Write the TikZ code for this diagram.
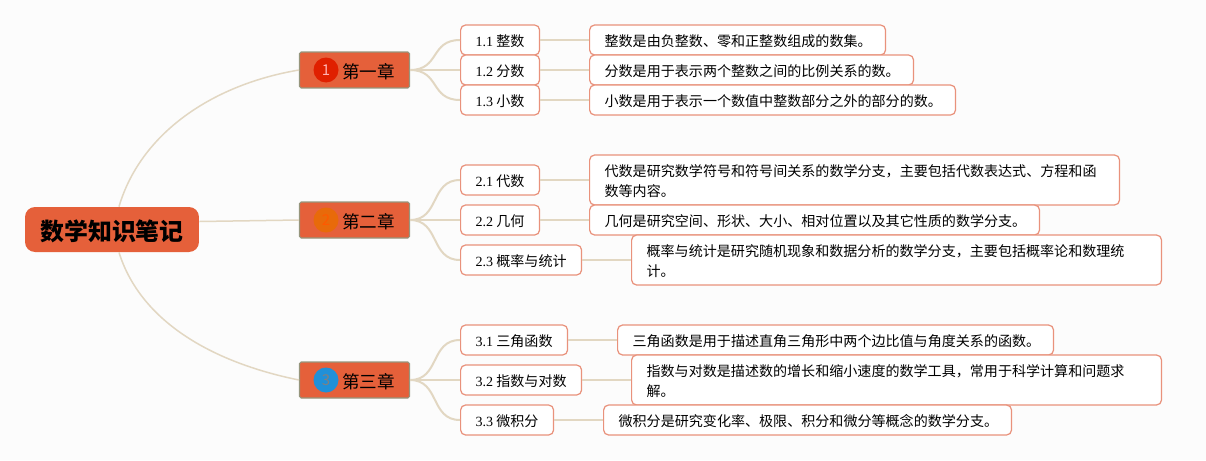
\documentclass[tikz,border=0pt]{standalone}
\usepackage{fontspec}
\setmainfont{Liberation Serif}
\newfontfamily\cjk{Noto Sans CJK SC}
\definecolor{PageBack}{RGB}{252, 252, 252}
\definecolor{BoxRed}{RGB}{229, 96, 58}
\definecolor{BoxLine}{RGB}{233, 146, 124}
\definecolor{Branch}{RGB}{226, 215, 194}
\definecolor{ChapLine}{RGB}{150, 150, 125}
\definecolor{BadgeRed}{RGB}{224, 32, 0}
\definecolor{BadgeOrange}{RGB}{232, 106, 10}
\definecolor{BadgeBlue}{RGB}{32, 144, 216}

\begin{document}
\begin{tikzpicture}[
                x=0.02cm, y=-0.02cm,
                root/.style={fill=BoxRed, rounded corners=0.2cm, minimum width=3.48cm, minimum height=0.9cm, text height=0.5cm, text depth=0.056cm, font=\cjk\fontsize{13.6}{16}\selectfont\bfseries},
                chap/.style={draw=ChapLine, fill=BoxRed, line width=0.6pt, rounded corners=0.03cm, minimum width=2.2cm, minimum height=0.72cm, text height=0.4cm, text depth=0.072cm, font=\cjk\fontsize{10}{12}\selectfont},
                badge/.style={circle, inner sep=0pt, minimum size=0.5cm, font=\cjk\fontsize{8.5}{10}\selectfont},
                sec/.style={draw=BoxLine, fill=white, line width=0.7pt, rounded corners=0.1cm, anchor=west, minimum height=0.6cm, minimum width=#1, inner xsep=0.3cm, inner ysep=0pt, text height=0.3cm, text depth=0.046cm, font=\cjk\fontsize{8}{10}\selectfont},
                det/.style={draw=BoxLine, fill=white, line width=0.7pt, rounded corners=0.1cm, anchor=west, minimum height=0.6cm, text width=#1, inner xsep=0.3cm, inner ysep=0pt, align=left, text height=0.3cm, text depth=0.046cm, font=\cjk\fontsize{8}{11.4}\selectfont},
                twoline/.style={minimum height=1cm, text depth=0.446cm},
                link/.style={Branch, line width=0.04cm},
                mainlink/.style={Branch, line width=0.03cm}
            ]
                \useasboundingbox (0, 0) rectangle (1206, 460);
                \fill[PageBack] (0, 0) rectangle (1206, 460);

                % Main Node
                \node[root] (root) at (112, 229.5) {数学知识笔记};

                % Chapters
                \node[chap] (ch1) at (354.5, 70) {\hspace*{0.56cm}第一章};
                \node[chap] (ch2) at (354.5, 220) {\hspace*{0.56cm}第二章};
                \node[chap] (ch3) at (354.5, 380) {\hspace*{0.56cm}第三章};
                \node[badge, fill=BadgeRed, text=red!30!white] (bd1) at (326, 70) {1};
                \node[badge, fill=BadgeOrange, text=orange!70!red] (bd2) at (326, 220) {2};
                \node[badge, fill=BadgeBlue, text=gray] (bd3) at (326, 380) {3};

                % Sections (first chapter)
                \node[sec=1.58cm] (s11) at (460, 40) {{\rmfamily 1.1} 整数};
                \node[sec=1.58cm] (s12) at (460, 70) {{\rmfamily 1.2} 分数};
                \node[sec=1.58cm] (s13) at (460, 100) {{\rmfamily 1.3} 小数};

                % Sections (second chapter)
                \node[sec=1.58cm] (s21) at (460, 180) {{\rmfamily 2.1} 代数};
                \node[sec=1.58cm] (s22) at (460, 220) {{\rmfamily 2.2} 几何};
                \node[sec=2.42cm] (s23) at (460, 260) {{\rmfamily 2.3} 概率与统计};

                % Sections (third chapter)
                \node[sec=2.14cm] (s31) at (460, 340) {{\rmfamily 3.1} 三角函数};
                \node[sec=2.42cm] (s32) at (460, 380) {{\rmfamily 3.2} 指数与对数};
                \node[sec=1.86cm] (s33) at (460, 420) {{\rmfamily 3.3} 微积分};

                % Details (first chapter)
                \node[det=5.32cm] (d11) at (589, 40) {整数是由负整数、零和正整数组成的数集。};
                \node[det=5.88cm] (d12) at (589, 70) {分数是用于表示两个整数之间的比例关系的数。};
                \node[det=6.72cm] (d13) at (589, 100) {小数是用于表示一个数值中整数部分之外的部分的数。};

                % Details (second chapter)
                \node[det=10cm, twoline] (d21) at (589, 180) {代数是研究数学符号和符号间关系的数学分支，主要包括代数表达式、方程和函\\数等内容。};
                \node[det=8.4cm] (d22) at (589, 220) {几何是研究空间、形状、大小、相对位置以及其它性质的数学分支。};
                \node[det=10cm, twoline] (d23) at (631, 260) {概率与统计是研究随机现象和数据分析的数学分支，主要包括概率论和数理统\\计。};

                % Details (third chapter)
                \node[det=8.12cm] (d31) at (617, 340) {三角函数是用于描述直角三角形中两个边比值与角度关系的函数。};
                \node[det=10cm, twoline] (d32) at (631, 380) {指数与对数是描述数的增长和缩小速度的数学工具，常用于科学计算和问题求\\解。};
                \node[det=7.56cm] (d33) at (603, 420) {微积分是研究变化率、极限、积分和微分等概念的数学分支。};

                % Root branches
                \draw[mainlink] ([xshift=0.14cm]root.north) .. controls (140, 135) and (210, 85) .. (ch1.west);
                \draw[mainlink] ([yshift=0.16cm]root.east) -- (ch2.west);
                \draw[mainlink] ([xshift=0.14cm]root.south) .. controls (140, 320) and (210, 362) .. (ch3.west);

                % Chapter branches
                \draw[link] (ch1.east) .. controls (440, 70) and (430, 40) .. (s11.west);
                \draw[link] (ch1.east) -- (s12.west);
                \draw[link] (ch1.east) .. controls (440, 70) and (430, 100) .. (s13.west);
                \draw[link] (ch2.east) .. controls (440, 220) and (430, 180) .. (s21.west);
                \draw[link] (ch2.east) -- (s22.west);
                \draw[link] (ch2.east) .. controls (440, 220) and (430, 260) .. (s23.west);
                \draw[link] (ch3.east) .. controls (440, 380) and (430, 340) .. (s31.west);
                \draw[link] (ch3.east) -- (s32.west);
                \draw[link] (ch3.east) .. controls (440, 380) and (430, 420) .. (s33.west);

                % Section to detail
                \draw[link] (s11) -- (d11);
                \draw[link] (s12) -- (d12);
                \draw[link] (s13) -- (d13);
                \draw[link] (s21) -- (d21);
                \draw[link] (s22) -- (d22);
                \draw[link] (s23) -- (d23);
                \draw[link] (s31) -- (d31);
                \draw[link] (s32) -- (d32);
                \draw[link] (s33) -- (d33);
            \end{tikzpicture}
\end{document}
